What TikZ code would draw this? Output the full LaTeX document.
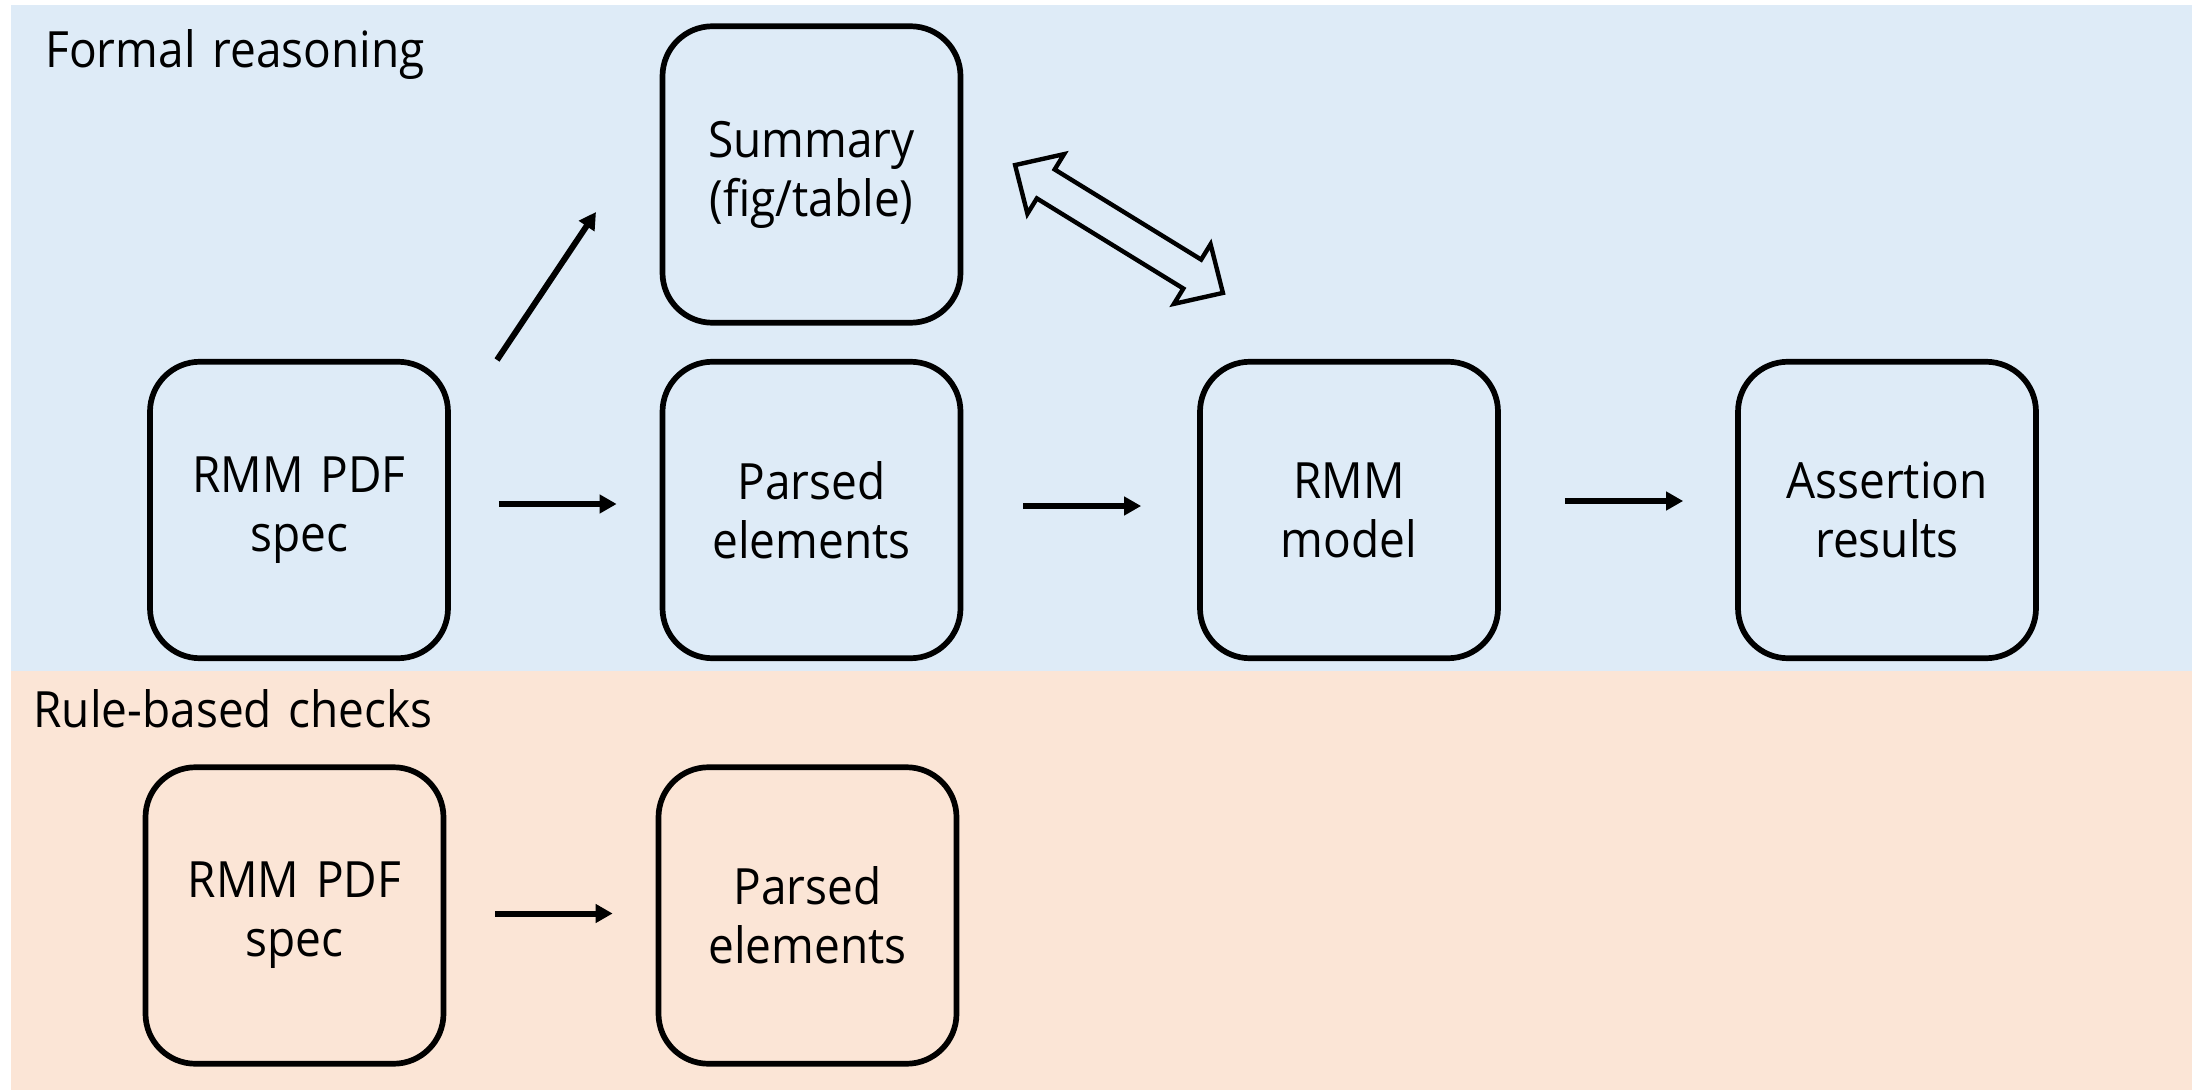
\documentclass[tikz,border=0pt]{standalone}
\usepackage{fontspec}
\setmainfont{Open Sans}[FakeStretch=0.92, WordSpace=1.4]
\usetikzlibrary{arrows.meta}
\definecolor{formalbg}{HTML}{DEEBF7}
\definecolor{rulebg}{HTML}{FBE5D6}
\begin{document}
\begin{tikzpicture}[x=0.5pt,y=-0.5pt,
  stage/.style={draw=black, line width=2.85pt, rounded corners=25pt,
    minimum width=149pt, minimum height=148.25pt, inner sep=0pt,
    align=center, font=\fontsize{25}{29.5}\selectfont},
  lane/.style={anchor=base west, inner sep=0pt, font=\fontsize{25}{29.5}\selectfont},
  flow/.style={draw=black, line width=3pt, -{Triangle[length=8.5pt,width=9pt]}},
  blockarrow/.style={draw=black, line width=2.2pt, line join=miter}]
  \useasboundingbox (0,0) rectangle (2196,1091);

  % lane backgrounds
  \fill[formalbg] (11,5) rectangle (2192,671);
  \fill[rulebg] (11,671) rectangle (2192,1090);

  % lane titles
  \node[lane] (tformal) at (45,68) {Formal reasoning};
  \node[lane] (trule) at (33,727) {Rule-based checks};

  % formal reasoning pipeline
  \node[stage] (spec1) at (299,510) {RMM PDF\\spec};
  \node[stage] (summ) at (811.5,174.5) {Summary\\(fig/table)};
  \node[stage] (pars1) at (811.5,510) {Parsed\\elements};
  \node[stage] (rmm) at (1349,510) {RMM\\model};
  \node[stage] (assert) at (1887,510) {Assertion\\results};

  % rule-based pipeline
  \node[stage] (spec2) at (294.5,915.5) {RMM PDF\\spec};
  \node[stage] (pars2) at (807.5,915.5) {Parsed\\elements};

  % connectors
  \draw[flow, shorten <=24pt, shorten >=21.5pt]
    ([yshift=3pt]spec1.east) -- ([yshift=3pt]pars1.west);
  \draw[flow, shorten <=30pt, shorten >=28pt]
    ([yshift=2pt]pars1.east) -- ([yshift=2pt]rmm.west);
  \draw[flow, shorten <=32pt, shorten >=26pt]
    ([yshift=4.5pt]rmm.east) -- ([yshift=4.5pt]assert.west);
  \draw[flow, shorten <=24.5pt, shorten >=21.5pt]
    ([yshift=1pt]spec2.east) -- ([yshift=1pt]pars2.west);
  \coordinate (diagstart) at (497,360);
  \coordinate (diagend) at (596,212);
  \draw[flow] (diagstart) -- (diagend);

  % two-way block arrow between summary and model
  \begin{scope}[shift={(1119,229)}, rotate=-31.6]
    \draw[blockarrow] (-122,0) -- (-86,35) -- (-86,17) -- (86,17) -- (86,35)
      -- (122,0) -- (86,-35) -- (86,-17) -- (-86,-17) -- (-86,-35) -- cycle;
  \end{scope}
\end{tikzpicture}
\end{document}
